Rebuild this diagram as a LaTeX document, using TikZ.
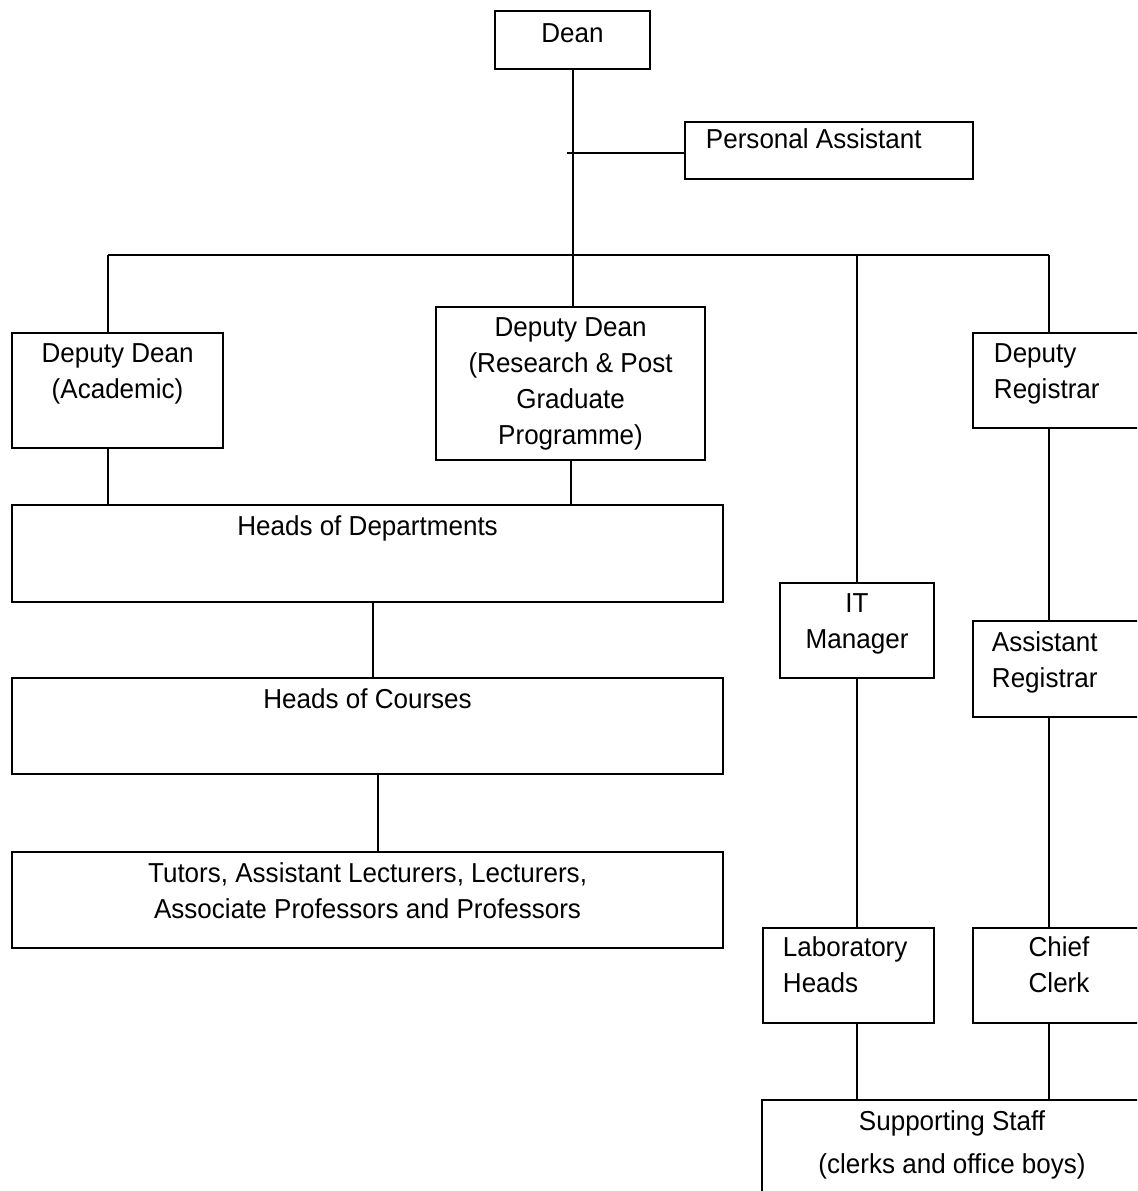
\documentclass[tikz,border=0pt]{standalone}
\usepackage{fontspec}
\setmainfont{Liberation Sans}[FakeStretch=0.95]
\usetikzlibrary{calc}

\tikzset{
  box/.style 2 args={draw, line width=1.2pt, anchor=north west, inner sep=0pt,
    minimum width=#1*0.02cm, minimum height=#2*0.02cm},
  mid/.style={anchor=north, align=center, inner sep=0pt, yshift=-0.22cm},
  lft/.style={anchor=north west, align=left, inner sep=0pt, xshift=0.42cm, yshift=-0.22cm}
}

\begin{document}
\begin{tikzpicture}[x=0.02cm, y=-0.02cm, line width=1.1pt,
  font=\fontsize{15.6}{20.4}\selectfont]
\useasboundingbox (0,0) rectangle (1137,1191);
\clip (0,0) rectangle (1137,1191);

% Dean + PA
\node [box={155}{58}, label={[mid, yshift=-0.04cm]north:Dean}] (dean) at (494,10) {};
\node [box={288}{57}, label={[lft, yshift=0.08cm]north west:Personal Assistant}] (pa) at (684,121) {};

% deputies
\node [box={211}{115}, label={[mid]north:Deputy Dean\\(Academic)}] (dda) at (11,332) {};
\node [box={269}{153}, label={[mid]north:Deputy Dean\\(Research \& Post\\Graduate\\Programme)}] (rpg) at (435,306) {};
\node [box={175}{95}, label={[lft]north west:Deputy\\Registrar}] (dr) at (972,332) {};

% academic side
\node [box={711}{97}, label={[mid]north:Heads of Departments}] (hod) at (11,504) {};
\node [box={711}{96}, label={[mid]north:Heads of Courses}] (hoc) at (11,677) {};
\node [box={711}{96}, label={[mid]north:Tutors, Assistant Lecturers, Lecturers,\\Associate Professors and Professors}] (tut) at (11,851) {};

% IT + registry
\node [box={154}{95}, label={[mid]north:IT\\Manager}] (itm) at (779,582) {};
\node [box={175}{96}, label={[lft, xshift=-0.04cm]north west:Assistant\\Registrar}] (ar) at (972,620) {};
\node [box={171}{95}, label={[lft, xshift=-0.02cm, yshift=0.04cm]north west:Laboratory\\Heads}] (lab) at (762,927) {};
\node [box={172}{95}, label={[mid, yshift=0.04cm]north:Chief\\Clerk}] (cc) at (972,927) {};
\node [box={380}{120}, label={[mid]north:Supporting Staff\\[4pt](clerks and office boys)}] (ss) at (761,1099) {};

% lines
\coordinate (busL) at (108,255);
\coordinate (busR) at (1049,255);
\coordinate (patick) at (567,153);
\draw
(dean.south) -- (dean.south |- rpg.north)
(patick) -- (patick -| pa.west)
(busL) -- (busR)
(busL) -- (busL |- dda.north)
(busL -| itm.north) -- (itm.north)
(busR) -- (busR |- dr.north);

\draw
(busL |- dda.south) -- (busL |- hod.north)
(rpg.south) -- (rpg.south |- hod.north)
($(hod.south)+(5,0)$) -- ($(hoc.north)+(5,0)$)
($(hoc.south)+(10,0)$) -- ($(tut.north)+(10,0)$);

\draw
(itm.south) -- (itm.south |- lab.north)
(itm.south |- lab.south) -- (itm.south |- ss.north)
(busR |- dr.south) -- (busR |- ar.north)
(busR |- ar.south) -- (busR |- cc.north)
(busR |- cc.south) -- (busR |- ss.north);
\end{tikzpicture}
\end{document}
